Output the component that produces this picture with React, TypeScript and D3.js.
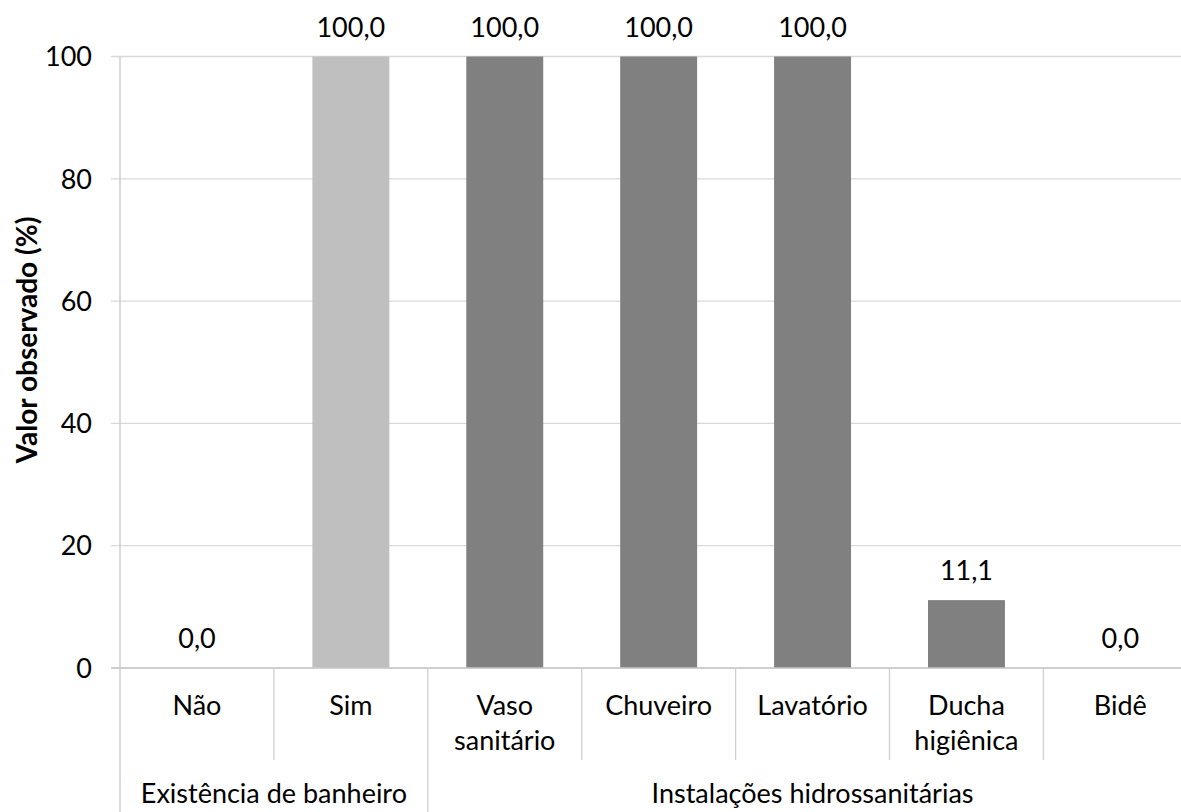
import React from "react";
import * as d3 from "d3";

const categories = ["Não", "Sim", "Vaso sanitário", "Chuveiro", "Lavatório", "Ducha higiênica", "Bidê"];
const categoryLines = [["Não"], ["Sim"], ["Vaso", "sanitário"], ["Chuveiro"], ["Lavatório"], ["Ducha", "higiênica"], ["Bidê"]];
const values = [0.0, 100.0, 100.0, 100.0, 100.0, 11.1, 0.0];
const groups = ["Existência de banheiro", "Instalações hidrossanitárias"];
const groupSizes = [2, 5];
const yTicks = [0, 20, 40, 60, 80, 100];
const yTitle = "Valor observado (%)";

const W = 1181;
const H = 812;
const FONT = "Lato, 'Open Sans', sans-serif";
const FS = 27;

export default function App() {
  const left = 120;
  const right = 1197.3;
  const x = d3.scaleBand<string>().domain(categories).range([left, right]).paddingInner(0.5).paddingOuter(0.25);
  const y = d3.scaleLinear().domain([0, 100]).range([668, 56.5]);
  const step = x.step();
  const fmt = (v: number) => v.toFixed(1).replace(".", ",");

  let acc = 0;
  const groupBounds = groupSizes.map((s) => {
    const a = acc;
    acc += s;
    return [a, acc];
  });

  return (
    <svg width={W} height={H} style={{ position: "absolute", left: 0, top: 0, background: "#fff" }} fontFamily={FONT}>
      <rect width={W} height={H} fill="#fff" />
      {yTicks.map((t) => (
        <g key={t}>
          <line x1={111} x2={W} y1={y(t)} y2={y(t)} stroke="#d9d9d9" strokeWidth={1.3} />
          <text x={92} y={y(t)} dy="0.36em" textAnchor="end" fontSize={FS} fill="#000">{t}</text>
        </g>
      ))}
      {categories.map((c, i) => (
        <rect key={c} x={x(c)} y={y(values[i])} width={x.bandwidth()} height={y(0) - y(values[i])} fill={i === 1 ? "#bfbfbf" : "#808080"} />
      ))}
      {categories.map((c, i) => (
        <text key={"l" + c} x={(x(c) as number) + x.bandwidth() / 2} y={y(values[i]) - 20} textAnchor="middle" fontSize={FS} fill="#000">{fmt(values[i])}</text>
      ))}
      <line x1={left} x2={left} y1={y(100)} y2={H} stroke="#c8c8c8" strokeWidth={1.3} />
      <line x1={111} x2={W} y1={y(0)} y2={y(0)} stroke="#c8c8c8" strokeWidth={1.3} />
      {categories.map((c, i) => {
        if (i === 0) return null;
        const bx = left + i * step;
        const isGroup = groupBounds.some((g) => g[0] === i);
        return <line key={"s" + c} x1={bx} x2={bx} y1={y(0)} y2={isGroup ? H : 760} stroke="#d0d0d0" strokeWidth={1.3} />;
      })}
      {categoryLines.map((lines, i) => (
        <text key={"c" + i} x={(x(categories[i]) as number) + x.bandwidth() / 2} y={715} textAnchor="middle" fontSize={FS} fill="#000">
          {lines.map((ln, j) => (
            <tspan key={j} x={(x(categories[i]) as number) + x.bandwidth() / 2} dy={j === 0 ? 0 : 35}>{ln}</tspan>
          ))}
        </text>
      ))}
      {groups.map((g, gi) => {
        const [a, b] = groupBounds[gi];
        const cx = left + ((a + b) / 2) * step;
        return <text key={g} x={cx} y={803} textAnchor="middle" fontSize={FS} fill="#000">{g}</text>;
      })}
      <text transform={`translate(37, ${340}) rotate(-90)`} textAnchor="middle" fontSize={28} fontWeight="bold" fill="#000">{yTitle}</text>
    </svg>
  );
}
